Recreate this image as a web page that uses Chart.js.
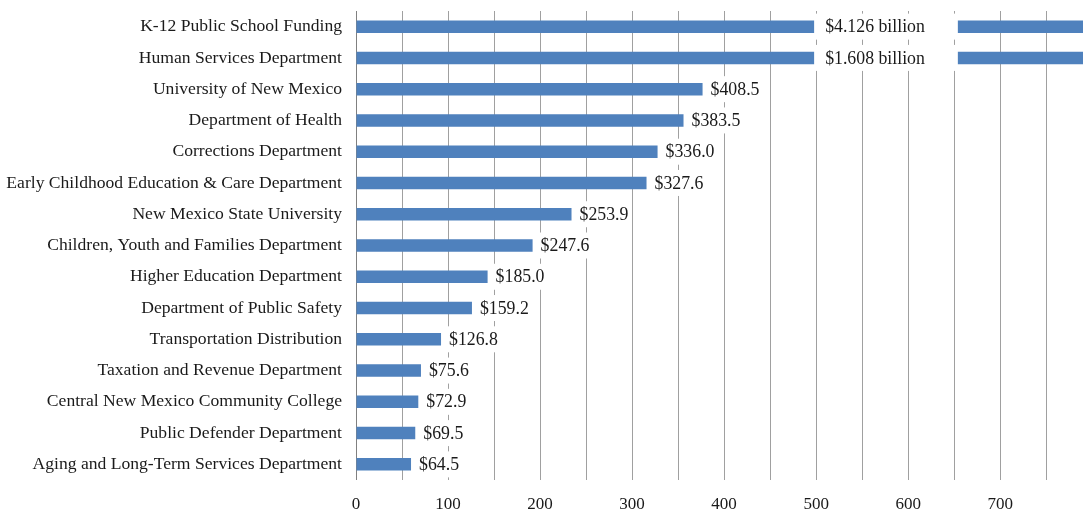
<!DOCTYPE html>
<html>
<head>
<meta charset="utf-8">
<script src="https://cdn.jsdelivr.net/npm/chart.js@4.4.1/dist/chart.umd.min.js"></script>
<style>
  html, body { margin: 0; padding: 0; background: #fff; }
  canvas { display: block; }
</style>
</head>
<body>
<canvas id="canvas" width="1083" height="514"></canvas>
<script>
// agencies, top to bottom
var agencies = [
  "K-12 Public School Funding",
  "Human Services Department",
  "University of New Mexico",
  "Department of Health",
  "Corrections Department",
  "Early Childhood Education & Care Department",
  "New Mexico State University",
  "Children, Youth and Families Department",
  "Higher Education Department",
  "Department of Public Safety",
  "Transportation Distribution",
  "Taxation and Revenue Department",
  "Central New Mexico Community College",
  "Public Defender Department",
  "Aging and Long-Term Services Department"
];
// amounts printed on the bars (millions of dollars)
var printedAmounts = [4126, 1608, 408.5, 383.5, 336.0, 327.6, 253.9, 247.6, 185.0, 159.2, 126.8, 75.6, 72.9, 69.5, 64.5];
// bar lengths as drawn against the axis (the source chart is not to scale)
var barLengths = [4126, 1608, 376.6, 355.9, 327.7, 315.7, 234.2, 191.9, 143.0, 126.0, 92.4, 70.6, 67.7, 64.4, 59.8];
var axisMax = 790;
var tickStep = 50;
var labelStep = 100;
// broken-bar gap for values off the scale
var gapFrom = 500;
var gapTo = 654;

var FONT = "'Liberation Serif', 'Times New Roman', serif";
var TEXT = "#1a1a1a";

function fmt(v) {
  if (v >= 1000) return "$" + (v / 1000).toFixed(3) + " billion";
  return "$" + v.toFixed(1);
}

var barLabels = {
  id: "barLabels",
  afterDatasetsDraw: function(chart) {
    var ctx = chart.ctx;
    var xs = chart.scales.x;
    var meta = chart.getDatasetMeta(0);
    ctx.save();
    ctx.font = "17.8px " + FONT;
    ctx.textBaseline = "middle";
    ctx.textAlign = "left";
    meta.data.forEach(function(bar, i) {
      var txt = fmt(printedAmounts[i]);
      var w = ctx.measureText(txt).width;
      var tx;
      if (barLengths[i] > axisMax) {
        var g0 = xs.getPixelForValue(gapFrom) - 2;
        var g1 = xs.getPixelForValue(gapTo);
        ctx.fillStyle = "#fff";
        ctx.fillRect(g0, bar.y - 13, g1 - g0, 26);
        tx = g0 + 11;
      } else {
        tx = bar.x + 8;
        ctx.fillStyle = "#fff";
        ctx.fillRect(tx - 2, bar.y - 13, w + 4, 26);
      }
      ctx.fillStyle = TEXT;
      ctx.fillText(txt, tx, bar.y + 1);
    });
    ctx.restore();
  }
};

var ctx = document.getElementById("canvas").getContext("2d");
var chart = new Chart(ctx, {
  type: "bar",
  data: {
    labels: agencies,
    datasets: [{
      data: barLengths,
      backgroundColor: "#4F81BD",
      borderWidth: 0,
      categoryPercentage: 1,
      barPercentage: 0.4
    }]
  },
  options: {
    indexAxis: "y",
    responsive: false,
    animation: false,
    devicePixelRatio: 1,
    layout: { padding: { top: 11, right: 0, left: 0, bottom: 0 } },
    plugins: {
      legend: { display: false },
      tooltip: { enabled: false }
    },
    scales: {
      x: {
        min: 0,
        max: axisMax,
        afterFit: function(s) { s.height = 34; s.paddingLeft = 0; s.paddingRight = 0; },
        border: { display: false },
        grid: {
          drawTicks: false,
          lineWidth: 1,
          color: function(c) { return c.tick && c.tick.value === 0 ? "#808080" : "#a0a0a0"; }
        },
        ticks: {
          stepSize: tickStep,
          includeBounds: false,
          autoSkip: false,
          maxRotation: 0,
          padding: 14,
          color: TEXT,
          font: { family: FONT, size: 17 },
          callback: function(v) { return v % labelStep === 0 ? String(v) : ""; }
        }
      },
      y: {
        afterFit: function(s) { s.width = 356; s.paddingTop = 0; s.paddingBottom = 0; },
        border: { display: false },
        grid: { display: false, drawTicks: false },
        ticks: {
          padding: 14,
          autoSkip: false,
          color: TEXT,
          font: { family: FONT, size: 17.6 }
        }
      }
    }
  },
  plugins: [barLabels]
});
</script>
</body>
</html>
